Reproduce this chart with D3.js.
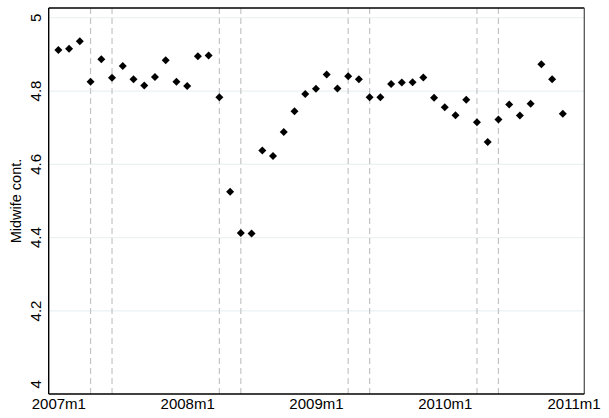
<!DOCTYPE html>
<html><head><meta charset="utf-8">
<script src="https://cdn.jsdelivr.net/npm/d3@7"></script>
<style>
html,body{margin:0;padding:0;background:#fff;}
svg{display:block;font-family:"Liberation Sans",Arial,Helvetica,sans-serif;}
</style></head>
<body><svg id="c" width="609" height="418"></svg>
<script>
// month index 0 = 2007m1
const months = d3.range(48);
const values = [4.912,4.915,4.936,4.825,4.887,4.836,4.868,4.832,4.815,4.838,4.884,4.825,
  4.814,4.895,4.897,4.783,4.525,4.413,4.411,4.638,4.623,4.688,4.745,4.792,
  4.806,4.845,4.807,4.840,4.832,4.783,4.783,4.819,4.823,4.824,4.837,4.782,
  4.756,4.734,4.776,4.715,4.661,4.722,4.763,4.733,4.765,4.873,4.832,4.738];
const eventMonths = [3,5,15,17,27,29,39,41];
const xTickVals = [0,12,24,36,48];
const xTickLabels = ["2007m1","2008m1","2009m1","2010m1","2011m1"];
const yTickVals = [4,4.2,4.4,4.6,4.8,5];
const yTickLabels = ["4","4.2","4.4","4.6","4.8","5"];
const yGridVals = [4.2,4.4,4.6,4.8,5];
const yTitle = "Midwife cont.";

const svg = d3.select("#c");
const L=48.7,R=584.3,T=8,B=394;
const x = d3.scaleLinear().domain([-0.9,49.0]).range([L,R]);
const y = d3.scaleLinear().domain([3.9735,5.0265]).range([B,T]);

// gridlines
svg.append("g").selectAll("line").data(yGridVals).join("line")
  .attr("x1",L).attr("x2",R).attr("y1",d=>y(d)).attr("y2",d=>y(d))
  .attr("stroke","#eaf2f3").attr("stroke-width",1.2);

// event dashed lines
svg.append("g").selectAll("line").data(eventMonths).join("line")
  .attr("x1",d=>x(d)).attr("x2",d=>x(d)).attr("y1",T).attr("y2",B)
  .attr("stroke","#c4c4c4").attr("stroke-width",1.2).attr("stroke-dasharray","6,4");

// frame
svg.append("line").attr("x1",L).attr("x2",R).attr("y1",T).attr("y2",T).attr("stroke","#000").attr("stroke-width",1.3);
svg.append("line").attr("x1",R).attr("x2",R).attr("y1",T).attr("y2",B).attr("stroke","#555").attr("stroke-width",1.3);

// axes
const xAxis = d3.axisBottom(x).tickValues(xTickVals).tickFormat((d,i)=>xTickLabels[i]).tickSize(0).tickPadding(4);
const gx = svg.append("g").attr("transform",`translate(0,${B})`).call(xAxis);
gx.select(".domain").attr("stroke","#000").attr("stroke-width",1.4).attr("d",`M${L},0H${R}`);
gx.selectAll("text").attr("font-size",15).attr("fill","#000").attr("font-family","Liberation Sans, Arial, sans-serif");

const yAxis = d3.axisLeft(y).tickValues(yTickVals).tickFormat((d,i)=>yTickLabels[i]).tickSize(0).tickPadding(8);
const gy = svg.append("g").attr("transform",`translate(${L},0)`).call(yAxis);
gy.select(".domain").attr("stroke","#000").attr("stroke-width",1.4).attr("d",`M0,${T}V${B}`);
gy.selectAll("text").attr("font-size",15).attr("fill","#000")
  .attr("transform",function(d){return `rotate(-90,${-8},${y(d)})`;})
  .attr("x",-8).attr("dy",0).attr("y",d=>y(d)).attr("text-anchor","middle");
gy.selectAll(".tick").attr("transform",null);

// y title
svg.append("text").attr("transform",`translate(21,${(T+B)/2}) rotate(-90)`)
  .attr("text-anchor","middle").attr("font-size",14.5).attr("fill","#000").text(yTitle);

// markers
const r=4;
svg.append("g").selectAll("path").data(months).join("path")
  .attr("d",i=>`M${x(i)},${y(values[i])-r}L${x(i)+r},${y(values[i])}L${x(i)},${y(values[i])+r}L${x(i)-r},${y(values[i])}Z`)
  .attr("fill","#000");
</script></body></html>
